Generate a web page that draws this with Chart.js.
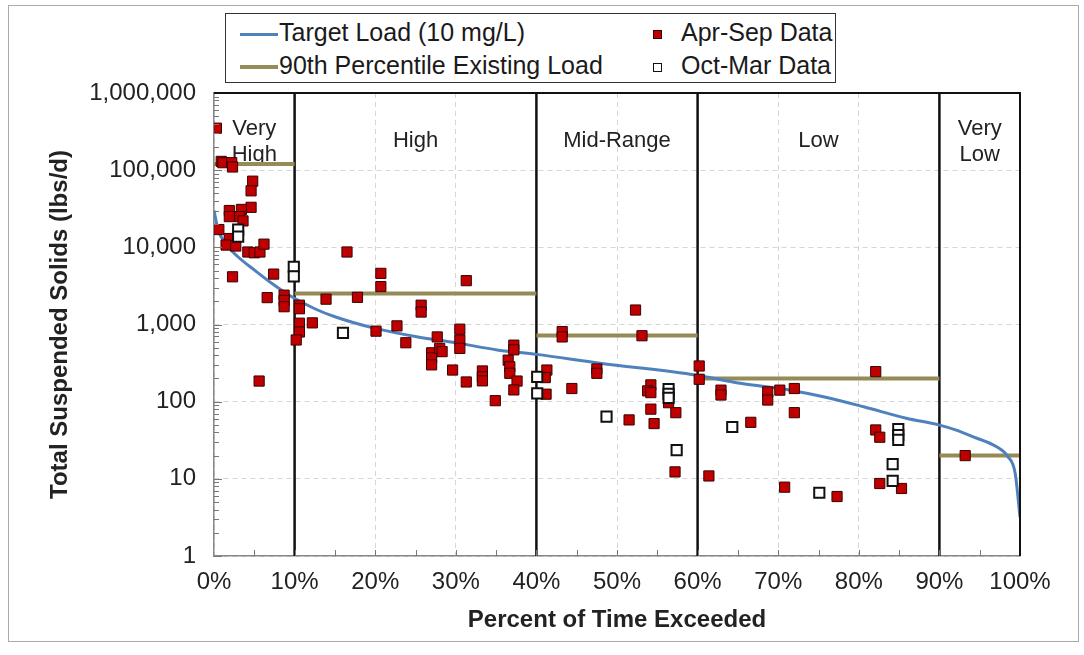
<!DOCTYPE html>
<html>
<head>
<meta charset="utf-8">
<script src="https://cdn.jsdelivr.net/npm/chart.js@4.4.1/dist/chart.umd.min.js"></script>
<style>
html,body{margin:0;padding:0;background:#fff;}
#wrap{position:relative;width:1084px;height:655px;font-family:"Liberation Sans",Arial,sans-serif;}
#frame{position:absolute;left:8px;top:5px;width:1071px;height:637px;border:1.5px solid #aaa;box-sizing:border-box;pointer-events:none;}
#legend{position:absolute;left:225px;top:13px;width:611px;height:70px;border:1.5px solid #333;box-sizing:border-box;background:#fff;font-size:25px;color:#1a1a1a;}
.item{position:absolute;white-space:nowrap;height:30px;line-height:30px;}
.ln{display:inline-block;width:38px;height:3px;vertical-align:middle;margin-right:1px;}
.mk{display:inline-block;width:9px;height:9px;vertical-align:middle;box-sizing:border-box;}
</style>
</head>
<body>
<div id="wrap">
  <canvas id="chart" width="1084" height="655"></canvas>
  <div id="frame"></div>
  <div id="legend">
    <div class="item" style="left:14px;top:3px"><span class="ln" style="background:#4f81bd"></span>Target Load (10 mg/L)</div>
    <div class="item" style="left:14px;top:36px"><span class="ln" style="background:#958b56;height:4px"></span>90th Percentile Existing Load</div>
    <div class="item" style="left:427px;top:3px"><span class="mk" style="background:#c00000;border:1px solid #3a0000"></span><span style="margin-left:19px">Apr-Sep Data</span></div>
    <div class="item" style="left:427px;top:36px"><span class="mk" style="background:#fff;border:1.5px solid #111"></span><span style="margin-left:19px">Oct-Mar Data</span></div>
  </div>
</div>
<script>
// DATA
const aprSepPct=[0.3,0.9,1.1,2.2,2.3,4.8,4.6,4.6,1.9,1.9,3.4,3.2,3.6,0.6,1.9,1.5,2.7,4.2,5.0,5.7,6.2,2.3,7.4,6.6,8.7,8.7,8.7,10.6,10.6,12.2,10.6,10.6,10.2,5.6,
  16.5,20.7,20.7,31.3,13.9,17.8,25.7,25.7,20.1,22.7,23.8,27.7,27.0,27.0,27.0,28.0,28.3,30.5,30.5,30.5,29.6,31.3,33.3,33.3,33.3,34.9,37.2,37.2,36.5,36.7,36.7,37.6,37.2,
  43.2,43.2,52.3,53.1,41.3,41.1,41.2,44.4,47.5,47.5,54.2,53.8,54.2,54.2,51.5,54.6,56.4,56.4,57.3,57.2,
  60.2,60.2,62.9,62.9,68.7,68.7,70.2,72.0,72.0,66.6,61.4,70.8,77.3,82.1,82.1,82.6,82.6,85.3,93.2];
const aprSepLoad=[350000,130000,125000,125000,110000,72000,54000,33000,30000,25000,31000,25000,22000,17000,13000,10700,10400,8700,8500,8700,11000,4150,4500,2230,2400,2050,1700,1780,1600,1050,1040,800,630,185,
  8700,4600,3100,3700,2130,2250,1780,1450,820,960,580,690,430,370,300,490,445,870,630,490,257,180,250,210,186,103,540,470,345,283,233,185,142,
  810,690,1540,715,257,205,125,148,265,233,165,138,131,80,58,52,114,97,72,12.3,
  290,195,141,122,134,105,141,148,72,54,10.9,7.8,5.9,245,43,34.6,8.7,7.5,20];
const octMarPct=[3.0,3.0,9.9,9.9,16.0,40.1,40.1,48.7,56.4,56.4,56.4,57.4,64.3,75.1,84.9,84.9,84.9,84.2,84.2];
const octMarLoad=[17000,13800,5600,4200,780,210,128,64,145,126,112,23.6,47,6.6,44,37,32,15.5,9.4];
const targetPct=[0,0.5,1.4,3.0,5.1,7.2,9.6,12.5,15.0,20.0,25.3,30.0,35.3,40.0,47.9,59.9,65.3,71.5,75.6,80.6,85.9,89.9,92.0,94.2,97.1,98.5,99.4,100];
const targetLoad=[30000,17000,11300,7500,5000,3400,2300,1600,1260,890,690,580,465,410,315,220,173,141,116,86,61,50,43,35,26,19.4,11.8,3.2];
const zoneEdges=[0,10,40,60,90,100];
const p90Load=[120000,2530,720,200,20];
const zoneNames=[["Very","High"],["High"],["Mid-Range"],["Low"],["Very","Low"]];
const yTicks=[1,10,100,1000,10000,100000,1000000];
const F='"Liberation Sans", Arial, sans-serif';

const aprSep=aprSepPct.map((p,i)=>({x:p,y:aprSepLoad[i]}));
const octMar=octMarPct.map((p,i)=>({x:p,y:octMarLoad[i]}));
const target=targetPct.map((p,i)=>({x:p,y:targetLoad[i]}));
let p90=[],bounds=[];
p90Load.forEach((v,i)=>{
  p90.push({x:zoneEdges[i],y:v},{x:zoneEdges[i+1],y:v},{x:zoneEdges[i+1],y:null});
});
zoneEdges.slice(1,-1).forEach(e=>{
  bounds.push({x:e,y:1},{x:e,y:1000000},{x:e,y:null});
});

// EXTRA DRAWING
const decor={
  id:'decor',
  beforeDatasetsDraw(chart){
    const {ctx,chartArea:a,scales:{x}}=chart;
    ctx.save();
    ctx.font='22px '+F;
    ctx.fillStyle='#222';ctx.textAlign='center';ctx.textBaseline='middle';
    zoneNames.forEach((lines,i)=>{
      const cx=x.getPixelForValue((zoneEdges[i]+zoneEdges[i+1])/2);
      const cy=a.top+(lines.length>1?49:48);
      lines.forEach((t,j)=>ctx.fillText(t,cx,cy+(j-(lines.length-1)/2)*26));
    });
    ctx.restore();
  },
  afterDatasetsDraw(chart){
    const {ctx,chartArea:a,scales:{x,y}}=chart;
    ctx.save();
    ctx.strokeStyle='#777';ctx.lineWidth=1;
    ctx.beginPath();
    for(let e=0;e<6;e++){
      for(let k=1;k<10;k++){
        const py=Math.round(y.getPixelForValue(k*Math.pow(10,e)))+0.5;
        ctx.moveTo(a.left,py);ctx.lineTo(a.left+(k==1?8:5),py);
      }
    }
    for(let p=5;p<100;p+=5){
      const px=Math.round(x.getPixelForValue(p))+0.5;
      ctx.moveTo(px,a.bottom);ctx.lineTo(px,a.bottom-6);
    }
    ctx.stroke();
    ctx.strokeStyle='#111';ctx.lineWidth=2;
    ctx.beginPath();
    ctx.moveTo(a.left,a.top);ctx.lineTo(a.right,a.top);ctx.lineTo(a.right,a.bottom);
    ctx.stroke();
    ctx.restore();
  }
};

new Chart(document.getElementById('chart'),{
  type:'scatter',
  data:{datasets:[
    {label:'Apr-Sep Data',data:aprSep,pointStyle:'rect',pointRadius:7.2,backgroundColor:'#c00000',borderColor:'#3a0000',borderWidth:1,order:1},
    {label:'Oct-Mar Data',data:octMar,pointStyle:'rect',pointRadius:7.2,backgroundColor:'#ffffff',borderColor:'#111',borderWidth:2,order:0},
    {label:'Target Load (10 mg/L)',data:target,showLine:true,pointRadius:0,borderColor:'#4f81bd',borderWidth:3,cubicInterpolationMode:'monotone',order:2},
    {label:'90th Percentile Existing Load',data:p90,showLine:true,spanGaps:false,pointRadius:0,borderColor:'#958b56',borderWidth:4,order:3},
    {label:'zones',data:bounds,showLine:true,spanGaps:false,pointRadius:0,borderColor:'#111',borderWidth:2.5,order:4}
  ]},
  options:{
    responsive:false,animation:false,
    layout:{padding:{left:20,top:93,right:64,bottom:8}},
    plugins:{legend:{display:false},tooltip:{enabled:false}},
    scales:{
      x:{type:'linear',min:0,max:100,
        ticks:{stepSize:10,callback:v=>v+'%',font:{size:24,family:F},color:'#222',padding:12,maxRotation:0},
        grid:{color:'#d6d6d6',lineWidth:1,drawTicks:false},
        border:{display:true,color:'#888',width:1.5,dash:[5,4]},
        title:{display:true,text:'Percent of Time Exceeded',font:{size:24,weight:'bold',family:F},color:'#222',padding:{top:4,bottom:12}},
        afterFit(s){s.height=91;}
      },
      y:{type:'logarithmic',min:1,max:1000000,
        afterBuildTicks(s){s.ticks=yTicks.map(v=>({value:v}));},
        ticks:{callback:v=>Number(v).toLocaleString('en-US'),font:{size:24,family:F},color:'#222',padding:18},
        grid:{color:'#d6d6d6',lineWidth:1,drawTicks:false},
        border:{display:true,color:'#888',width:1.5,dash:[5,4]},
        title:{display:true,text:'Total Suspended Solids (lbs/d)',font:{size:24,weight:'bold',family:F},color:'#222',padding:{top:26,bottom:0}},
        afterFit(s){s.width=194;}
      }
    }
  },
  plugins:[decor]
});
</script>
</body>
</html>
